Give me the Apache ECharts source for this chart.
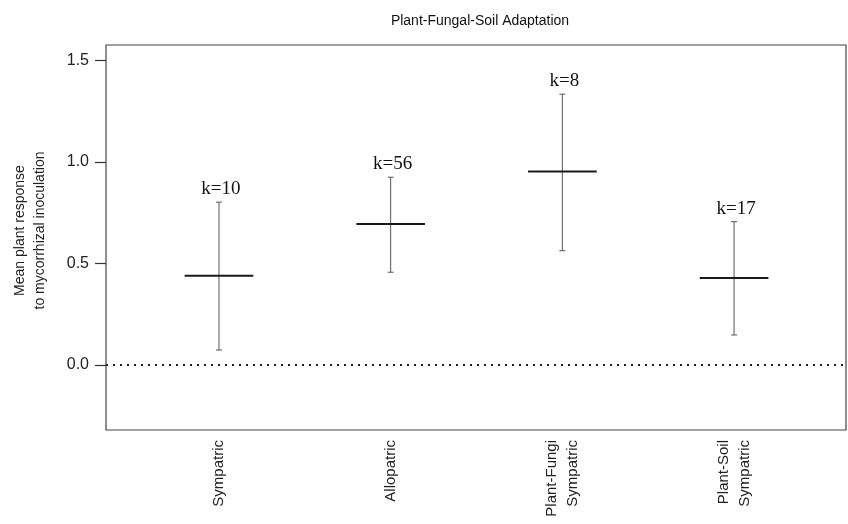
<!DOCTYPE html>
<html>
<head>
<meta charset="utf-8">
<script src="https://cdn.jsdelivr.net/npm/echarts@6/dist/echarts.min.js"></script>
<style>
  html, body { margin: 0; padding: 0; background: #fff; }
  #chart { width: 848px; height: 524px; }
</style>
</head>
<body>
<div id="chart"></div>
<script>
// groups and their effect sizes
const groups = ['Sympatric', 'Allopatric', 'Plant-Fungi\nSympatric', 'Plant-Soil\nSympatric'];
const means = [0.44, 0.695, 0.953, 0.429];
const lower = [0.074, 0.457, 0.563, 0.148];
const upper = [0.802, 0.925, 1.334, 0.706];
const kCounts = [10, 56, 8, 17];
const yTicks = [0, 0.5, 1.0, 1.5];

const chart = echarts.init(document.getElementById('chart'));

const data = groups.map((g, i) => [i + 1, means[i], lower[i], upper[i], kCounts[i]]);

function renderBar(params, api) {
  const x = api.value(0);
  const pMean = api.coord([x, api.value(1)]);
  const pLow = api.coord([x, api.value(2)]);
  const pHigh = api.coord([x, api.value(3)]);
  const halfW = api.size([0.2, 0])[0];
  const cap = 3;
  const thin = { stroke: '#555', lineWidth: 1 };
  return {
    type: 'group',
    children: [
      { type: 'line', shape: { x1: pLow[0], y1: pLow[1], x2: pHigh[0], y2: pHigh[1] }, style: thin },
      { type: 'line', shape: { x1: pLow[0] - cap, y1: pLow[1], x2: pLow[0] + cap, y2: pLow[1] }, style: thin },
      { type: 'line', shape: { x1: pHigh[0] - cap, y1: pHigh[1], x2: pHigh[0] + cap, y2: pHigh[1] }, style: thin },
      { type: 'line', shape: { x1: pMean[0] - halfW, y1: pMean[1], x2: pMean[0] + halfW, y2: pMean[1] },
        style: { stroke: '#1a1a1a', lineWidth: 2 } },
      { type: 'text', x: pHigh[0] + 2, y: pHigh[1] - 13,
        style: { text: 'k=' + api.value(4), fill: '#111', font: '19px "Liberation Serif", serif',
                 textAlign: 'center', textVerticalAlign: 'middle' } }
    ]
  };
}

const option = {
  animation: false,
  backgroundColor: '#fff',
  title: {
    text: 'Plant-Fungal-Soil Adaptation',
    left: 475,
    top: 9,
    textAlign: 'center',
    textStyle: { fontFamily: 'Liberation Sans, Arial', fontSize: 14, fontWeight: 'normal', color: '#111' }
  },
  grid: {
    left: 106, right: 2, top: 45, bottom: 94,
    show: true, borderColor: '#444', borderWidth: 1.2, backgroundColor: 'transparent'
  },
  xAxis: {
    type: 'value',
    min: 0.342,
    max: 4.652,
    splitLine: { show: false },
    axisLine: { show: false },
    axisTick: { show: false },
    axisLabel: {
      customValues: [1, 2, 3, 4],
      formatter: v => groups[Math.round(v) - 1] || '',
      rotate: 90,
      margin: 10,
      fontFamily: 'Liberation Sans, Arial',
      fontSize: 15,
      lineHeight: 21,
      color: '#222'
    }
  },
  yAxis: {
    type: 'value',
    min: -0.32,
    max: 1.576,
    name: 'Mean plant response\nto mycorrhizal inoculation',
    nameLocation: 'middle',
    nameRotate: 90,
    nameGap: 56,
    nameTextStyle: { fontFamily: 'Liberation Sans, Arial', fontSize: 14, lineHeight: 20, color: '#222',
                     padding: [0, 0, 0, 14] },
    splitLine: { show: false },
    axisLine: { show: false },
    axisTick: { show: true, customValues: yTicks, length: 11, lineStyle: { color: '#333', width: 1.2 } },
    axisLabel: {
      customValues: yTicks,
      formatter: v => v.toFixed(1),
      margin: 17,
      fontFamily: 'Liberation Sans, Arial',
      fontSize: 16,
      color: '#222'
    }
  },
  series: [{
    type: 'custom',
    renderItem: renderBar,
    data: data,
    clip: false,
    markLine: {
      silent: true,
      symbol: 'none',
      label: { show: false },
      lineStyle: { color: '#222', width: 2, type: [2, 5] },
      data: [{ yAxis: 0 }]
    }
  }]
};

chart.setOption(option);
window.addEventListener('resize', () => chart.resize());
</script>
</body>
</html>
